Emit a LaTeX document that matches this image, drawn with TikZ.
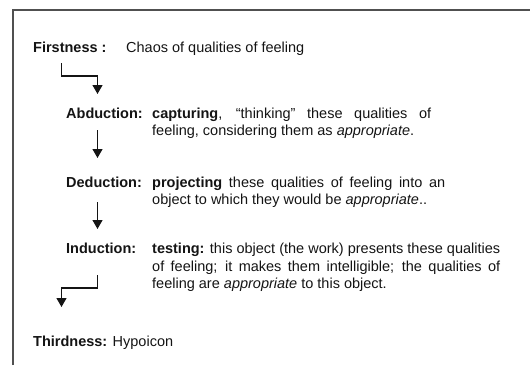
\documentclass[tikz,border=0pt]{standalone}
\usepackage{fontspec}
\setmainfont{Liberation Sans}
\usepackage{tikz}
\usetikzlibrary{arrows.meta}
\definecolor{frgrey}{HTML}{505050}
\definecolor{txtdark}{HTML}{141414}

\begin{document}
\begin{tikzpicture}[x=1pt,y=-1pt,
  lbl/.style={font=\fontsize{14.5}{17.5}\selectfont,color=txtdark,anchor=base west,inner sep=0pt},
  body/.style={lbl,align=justify},
  flow/.style={txtdark,line width=1.1pt,-{Triangle[width=10pt,length=9pt]}}]
\useasboundingbox (0,0) rectangle (530,365);
% frame, open to the right and bottom
\draw[frgrey,line width=1.6pt] (13,365) -- (13,10) -- (530,10);

% the stages
\node[lbl] (first) at (33,52.5) {\textbf{Firstness :}};
\node[lbl] (chaos) at (126,52.5) {Chaos of qualities of feeling};
\node[lbl] (abd) at (66,118) {\textbf{Abduction:}};
\node[body,text width=279pt] (abdtxt) at (152,118)
  {\noindent\textbf{capturing}, “thinking” these qualities of\linebreak
   feeling, considering them as \textit{appropriate}.};
\node[lbl] (ded) at (66,187) {\textbf{Deduction:}};
\node[body,text width=293pt] (dedtxt) at (152,187)
  {\noindent\textbf{projecting} these qualities of feeling into an\linebreak
   object to which they would be \textit{appropriate}..};
\node[lbl] (ind) at (66,253.5) {\textbf{Induction:}};
\node[body,text width=348pt] (indtxt) at (152,253.5)
  {\noindent\textbf{testing:} this object (the work) presents these qualities\linebreak
   of feeling; it makes them intelligible; the qualities of\linebreak
   feeling are \textit{appropriate} to this object.};
\node[lbl] (third) at (33,346) {\textbf{Thirdness:} Hypoicon};

% arrows between the stages
\coordinate (f1) at (61.5,63);
\coordinate (f1e) at (97.5,94);
\coordinate (f2) at (97.5,130);
\coordinate (f2e) at (97.5,158);
\coordinate (f3) at (97.5,202);
\coordinate (f3e) at (97.5,229);
\coordinate (f4) at (97.5,275);
\coordinate (f4e) at (61.5,307);
\draw[flow] (f1) -- ++(0,13) -| (f1e);
\draw[flow] (f2) -- (f2e);
\draw[flow] (f3) -- (f3e);
\draw[flow] (f4) -- ++(0,13) -| (f4e);
\end{tikzpicture}
\end{document}
